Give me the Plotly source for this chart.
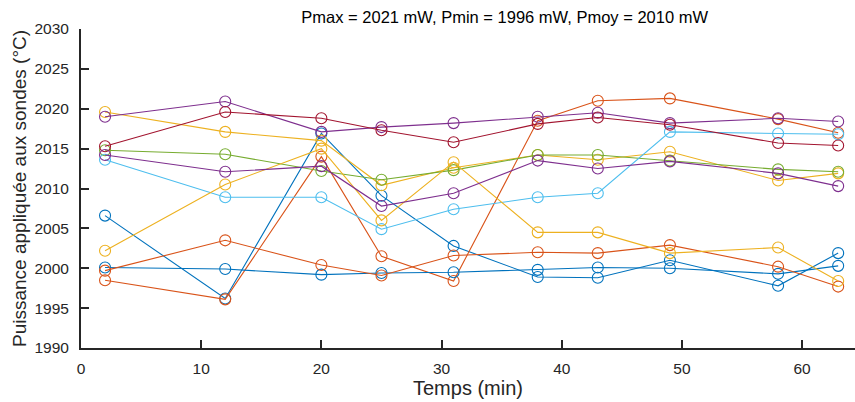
import plotly.graph_objects as go

temps = [2, 12, 20, 25, 31, 38, 43, 49, 58, 63]

s1_blue   = [2006.6, 1996.2, 2016.9, 2009.1, 2002.8, 1998.9, 1998.8, 2001.0, 1997.8, 2001.9]
s2_orange = [1998.5, 1996.1, 2014.0, 2001.5, 1998.4, 2018.5, 2021.0, 2021.3, 2018.7, 2017.0]
s3_yellow = [2019.6, 2017.1, 2016.0, 2010.4, 2012.6, 2014.2, 2013.6, 2014.6, 2011.0, 2011.9]
s4_purple = [2019.0, 2020.9, 2017.1, 2017.7, 2018.2, 2019.0, 2019.5, 2018.2, 2018.8, 2018.4]
s5_green  = [2014.8, 2014.3, 2012.2, 2011.1, 2012.3, 2014.2, 2014.2, 2013.5, 2012.4, 2012.1]
s6_lblue  = [2013.6, 2008.9, 2008.9, 2004.9, 2007.4, 2008.9, 2009.4, 2017.1, 2016.9, 2016.8]
s7_dred   = [2015.3, 2019.6, 2018.8, 2017.3, 2015.8, 2018.1, 2018.9, 2018.0, 2015.7, 2015.4]
s8_blue   = [2000.1, 1999.9, 1999.2, 1999.4, 1999.5, 1999.8, 2000.1, 2000.0, 1999.3, 2000.3]
s9_orange = [1999.7, 2003.5, 2000.4, 1999.1, 2001.6, 2002.0, 2001.9, 2002.9, 2000.2, 1997.7]
s10_yellow = [2002.2, 2010.5, 2015.0, 2006.0, 2013.3, 2004.5, 2004.5, 2001.9, 2002.6, 1998.4]
s11_purple = [2014.2, 2012.1, 2012.8, 2007.8, 2009.4, 2013.5, 2012.5, 2013.4, 2011.9, 2010.3]

series = [s1_blue, s2_orange, s3_yellow, s4_purple, s5_green, s6_lblue, s7_dred,
          s8_blue, s9_orange, s10_yellow, s11_purple]
colors = ["#0072BD", "#D95319", "#EDB120", "#7E2F8E", "#77AC30", "#4DBEEE", "#A2142F"]

x_ticks = [0, 10, 20, 30, 40, 50, 60]
y_ticks = [1990, 1995, 2000, 2005, 2010, 2015, 2020, 2025, 2030]

title_text = "Pmax = 2021 mW, Pmin = 1996 mW, Pmoy = 2010 mW"

fig = go.Figure()
for i, ys in enumerate(series):
    c = colors[i % len(colors)]
    fig.add_trace(go.Scatter(
        x=temps, y=ys, mode="lines+markers",
        line=dict(color=c, width=1.1),
        marker=dict(symbol="circle-open", size=11, color=c, line=dict(width=1.1, color=c)),
        showlegend=False, cliponaxis=False, hoverinfo="skip",
    ))

axis_color = "#262626"
font_fam = "Liberation Sans, Arial, sans-serif"

fig.update_layout(
    width=855, height=402,
    margin=dict(l=81, r=0, t=29, b=54, autoexpand=False),
    paper_bgcolor="white", plot_bgcolor="white",
    font=dict(family=font_fam, color=axis_color),
    title=dict(text=title_text, x=(81 + 855) / 2 / 855, xanchor="center",
               xref="paper", y=1 - 17 / 402, yanchor="middle",
               font=dict(size=16.5, color="#000000", family=font_fam)),
)
fig.update_xaxes(
    range=[0, 64.4], tickvals=x_ticks, ticktext=[str(v) for v in x_ticks],
    showgrid=False, zeroline=False, showline=True, linecolor=axis_color, linewidth=2,
    ticks="inside", ticklen=8, tickwidth=2, tickcolor=axis_color, automargin=False,
    tickfont=dict(size=15.5, color=axis_color), ticklabelstandoff=5,
    title=dict(text="Temps (min)", font=dict(size=20, color=axis_color), standoff=5),
)
fig.update_yaxes(
    range=[1990, 2030], tickvals=y_ticks, ticktext=[str(v) for v in y_ticks],
    showgrid=False, zeroline=False, showline=True, linecolor=axis_color, linewidth=2,
    ticks="inside", ticklen=8, tickwidth=2, tickcolor=axis_color, automargin=False,
    tickfont=dict(size=15.5, color=axis_color), ticklabelstandoff=7,
    title=dict(text="Puissance appliquée aux sondes (°C)", font=dict(size=19, color=axis_color), standoff=3),
)

fig.write_html("out.html", config={"displayModeBar": False},
               post_script="document.body.style.margin='0';document.body.style.padding='0';document.body.style.overflow='hidden';")
